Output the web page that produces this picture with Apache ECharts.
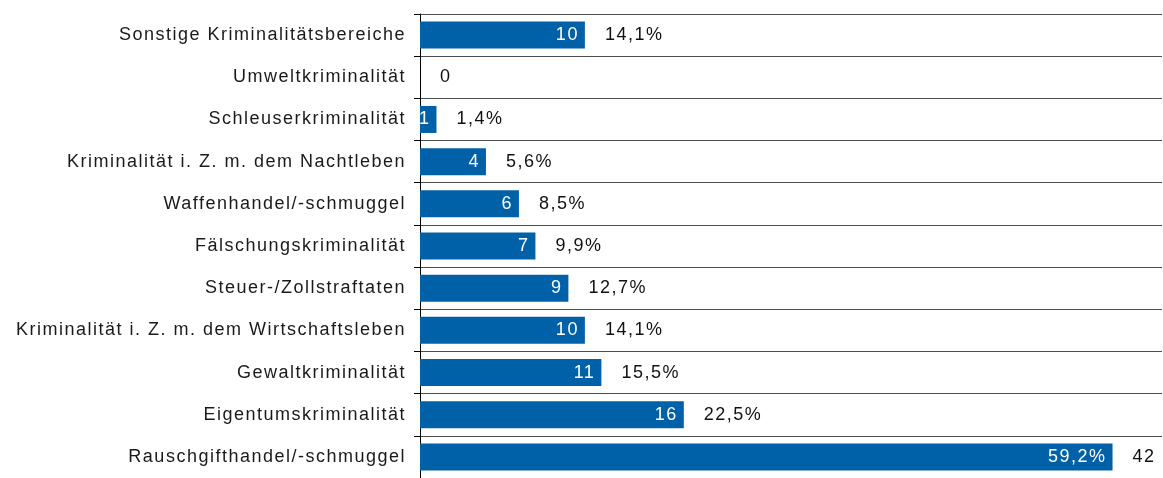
<!DOCTYPE html>
<html>
<head>
<meta charset="utf-8">
<script src="https://cdn.jsdelivr.net/npm/echarts@6/dist/echarts.min.js"></script>
<style>
  html, body { margin: 0; padding: 0; background: #fff; }
  #chart { width: 1163px; height: 478px; }
</style>
</head>
<body>
<div id="chart"></div>
<script>
  // categories from top to bottom
  var categories = [
    'Sonstige Kriminalitätsbereiche',
    'Umweltkriminalität',
    'Schleuserkriminalität',
    'Kriminalität i. Z. m. dem Nachtleben',
    'Waffenhandel/-schmuggel',
    'Fälschungskriminalität',
    'Steuer-/Zollstraftaten',
    'Kriminalität i. Z. m. dem Wirtschaftsleben',
    'Gewaltkriminalität',
    'Eigentumskriminalität',
    'Rauschgifthandel/-schmuggel'
  ]
  var counts = [10, 0, 1, 4, 6, 7, 9, 10, 11, 16, 42]
  // text inside the bar and text right of the bar (last row is swapped in the original)
  var innerLabels = ['10', '', '1', '4', '6', '7', '9', '10', '11', '16', '59,2%']
  var outerLabels = ['14,1%', '0', '1,4%', '5,6%', '8,5%', '9,9%', '12,7%', '14,1%', '15,5%', '22,5%', '42']

  // the original uses wide letter spacing, echarts has no option for it -> set it on the canvas
  var proto = CanvasRenderingContext2D.prototype
  ;['fillText', 'strokeText', 'measureText'].forEach(function (name) {
    var orig = proto[name]
    proto[name] = function () {
      this.letterSpacing = '1.5px'
      return orig.apply(this, arguments)
    }
  })

  var font = '"Liberation Sans", Arial, Helvetica, sans-serif'
  var myChart = echarts.init(document.getElementById('chart'))
  myChart.setOption({
    animation: false,
    grid: { left: 420, top: 14, width: 742, height: 472, containLabel: false },
    xAxis: {
      type: 'value',
      min: 0,
      max: 45,
      show: false
    },
    yAxis: {
      type: 'category',
      inverse: true,
      data: categories,
      axisLine: { lineStyle: { color: '#000', width: 1 } },
      axisTick: { show: true, length: 6, lineStyle: { color: '#000' } },
      axisLabel: { color: '#1a1a1a', fontFamily: font, fontSize: 18, margin: 14 },
      splitLine: { show: true, lineStyle: { color: '#4d4d4d', width: 1 } }
    },
    series: [
      {
        type: 'bar',
        barWidth: 27,
        itemStyle: { color: '#0061a8' },
        label: {
          show: true,
          position: 'insideRight',
          distance: 6,
          color: '#fff',
          fontFamily: font,
          fontSize: 18,
          formatter: function (p) { return innerLabels[p.dataIndex] }
        },
        data: counts
      },
      {
        type: 'bar',
        barWidth: 27,
        barGap: '-100%',
        silent: true,
        itemStyle: { color: 'rgba(0,0,0,0)' },
        label: {
          show: true,
          position: 'right',
          distance: 20,
          color: '#111',
          fontFamily: font,
          fontSize: 18,
          formatter: function (p) { return outerLabels[p.dataIndex] }
        },
        data: counts
      }
    ]
  })
</script>
</body>
</html>
